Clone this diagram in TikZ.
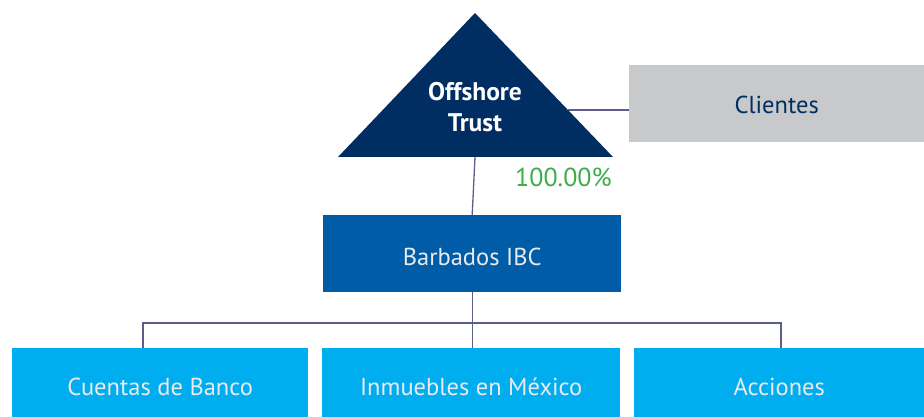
\documentclass[tikz,border=0pt]{standalone}
\usepackage{fontspec}
\setmainfont{PT Sans}
\definecolor{navy}{RGB}{0,45,98}
\definecolor{midblue}{RGB}{0,92,166}
\definecolor{skyblue}{RGB}{0,174,239}
\definecolor{greybox}{RGB}{200,201,203}
\definecolor{linecol}{RGB}{92,94,138}
\definecolor{pctgreen}{RGB}{62,172,72}
\definecolor{boxtext}{RGB}{232,234,238}
\begin{document}
\begin{tikzpicture}[x=1pt,y=-1pt,
  conn/.style={draw=linecol,line width=1.3pt},
  box/.style={anchor=north west,inner sep=0pt},
  lbl/.style={font=\fontsize{24.5}{28}\selectfont}]
\useasboundingbox (0,0) rectangle (924,417);
% named corner coordinates
\coordinate (apex) at (475,13);
\coordinate (bl) at (338,157);
\coordinate (br) at (613,157);
\coordinate (tbase) at (475,157);
\coordinate (tedge) at (568,110);
% boxes
\node[box,fill=greybox,minimum width=295pt,minimum height=77pt] (cli) at (629,65) {};
\node[lbl,text=navy,yshift=-1.5pt] (clit) at (cli.center) {Clientes};
\node[box,fill=midblue,minimum width=298pt,minimum height=77pt] (ibc) at (323,215) {};
\node[lbl,text=boxtext,yshift=-3pt] (ibct) at (ibc.center) {Barbados IBC};
\node[box,fill=skyblue,minimum width=296pt,minimum height=69pt] (b1) at (12,348) {};
\node[box,fill=skyblue,minimum width=298pt,minimum height=69pt] (b2) at (322,348) {};
\node[box,fill=skyblue,minimum width=290pt,minimum height=69pt] (b3) at (634,348) {};
\node[lbl,text=boxtext,yshift=-4pt] (b1t) at (b1.center) {Cuentas de Banco};
\node[lbl,text=boxtext,yshift=-4pt] (b2t) at (b2.center) {Inmuebles en México};
\node[lbl,text=boxtext,yshift=-4pt] (b3t) at (b3.center) {Acciones};
% connectors
\draw[conn] (tedge) -- (cli.west |- tedge);
\draw[conn] (tbase) -- (ibc.north);
\coordinate (bus) at (475,323);
\draw[conn] (ibc.south) -- (b2.north -| ibc.south);
\draw[conn] (b1.north -| 143,0) |- (bus) -| (b3.north -| 781,0);
% triangle
\fill[navy] (apex) -- (br) -- (bl) -- cycle;
\node[align=center,text=white,font=\bfseries\fontsize{25.5}{31}\selectfont] (trust) at (475,107) {Offshore\\Trust};
\node[anchor=west,text=pctgreen,font=\fontsize{26}{28}\selectfont,inner sep=0pt] (pct) at (515,177) {100.00\%};
\end{tikzpicture}
\end{document}
